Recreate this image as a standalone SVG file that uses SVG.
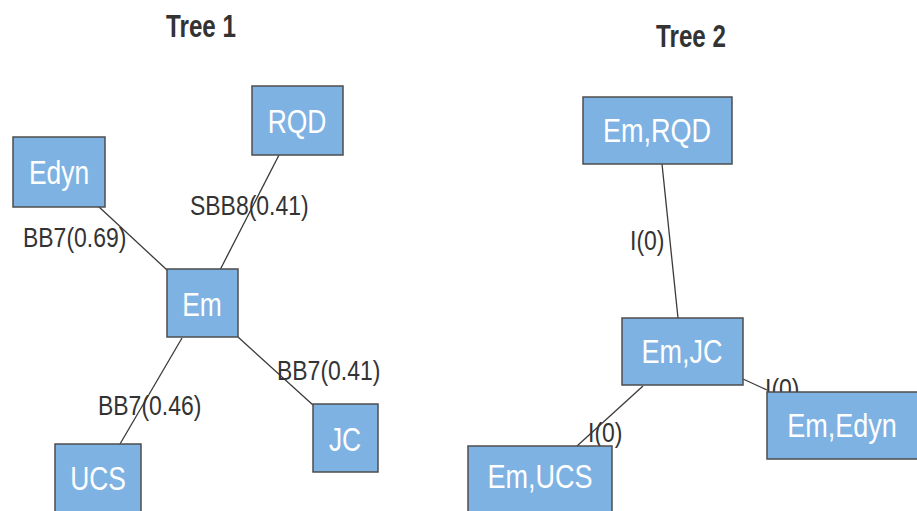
<svg xmlns="http://www.w3.org/2000/svg" width="917" height="511" viewBox="0 0 917 511">
<style>
.node rect{fill:#7EB2E3;stroke:#4d4d4d;stroke-width:1.5}
.node text{fill:#ffffff;font-family:"Liberation Sans",Arial,sans-serif;font-size:33px;text-anchor:middle}
#edges line{stroke:#3a3a3a;stroke-width:1.3}
.lbl{fill:#333333;font-family:"Liberation Sans",Arial,sans-serif;font-size:28px}
.title{fill:#333333;font-family:"Liberation Sans",Arial,sans-serif;font-size:31px;font-weight:bold;text-anchor:middle}
</style>
<rect width="917" height="511" fill="#ffffff"/>
<text class="title" transform="translate(201,37) scale(0.78,1)">Tree 1</text>
<text class="title" transform="translate(691,47) scale(0.78,1)">Tree 2</text>
<g id="edges">
<line x1="279" y1="155" x2="220" y2="270"/>
<line x1="98" y1="206" x2="167" y2="270"/>
<line x1="182" y1="338" x2="120" y2="444"/>
<line x1="238" y1="337" x2="313" y2="405"/>
<line x1="662" y1="164" x2="678" y2="318"/>
<line x1="743" y1="379" x2="767" y2="390"/>
<line x1="643" y1="386" x2="577" y2="446"/>
</g>
<g id="labels">
<text class="lbl" transform="translate(190,215) scale(0.82,1)">SBB8(0.41)</text>
<text class="lbl" transform="translate(23,247) scale(0.82,1)">BB7(0.69)</text>
<text class="lbl" transform="translate(277,380) scale(0.82,1)">BB7(0.41)</text>
<text class="lbl" transform="translate(98,415) scale(0.82,1)">BB7(0.46)</text>
<text class="lbl" transform="translate(630,250) scale(0.82,1)">I(0)</text>
<text class="lbl" transform="translate(588,442) scale(0.82,1)">I(0)</text>
<text class="lbl" transform="translate(765,398) scale(0.82,1)">I(0)</text>
</g>
<g id="n-edyn" class="node"><rect x="13" y="137" width="92" height="70"/><text transform="translate(59,184) scale(0.8,1)">Edyn</text></g>
<g id="n-rqd" class="node"><rect x="252" y="86" width="91" height="69"/><text transform="translate(297,133) scale(0.8,1)">RQD</text></g>
<g id="n-em" class="node"><rect x="167" y="269" width="71" height="68"/><text transform="translate(202,316) scale(0.8,1)">Em</text></g>
<g id="n-ucs" class="node"><rect x="55" y="444" width="86" height="70"/><text transform="translate(98,490) scale(0.8,1)">UCS</text></g>
<g id="n-jc" class="node"><rect x="313" y="404" width="65" height="68"/><text transform="translate(345,451) scale(0.8,1)">JC</text></g>
<g id="n-emrqd" class="node"><rect x="583" y="97" width="149" height="67"/><text transform="translate(657,142) scale(0.82,1)">Em,RQD</text></g>
<g id="n-emjc" class="node"><rect x="622" y="318" width="121" height="67"/><text transform="translate(682,363) scale(0.82,1)">Em,JC</text></g>
<g id="n-emedyn" class="node"><rect x="767" y="392" width="152" height="67"/><text transform="translate(842,437) scale(0.82,1)">Em,Edyn</text></g>
<g id="n-emucs" class="node"><rect x="468" y="446" width="144" height="70"/><text transform="translate(540,488) scale(0.82,1)">Em,UCS</text></g>
</svg>
